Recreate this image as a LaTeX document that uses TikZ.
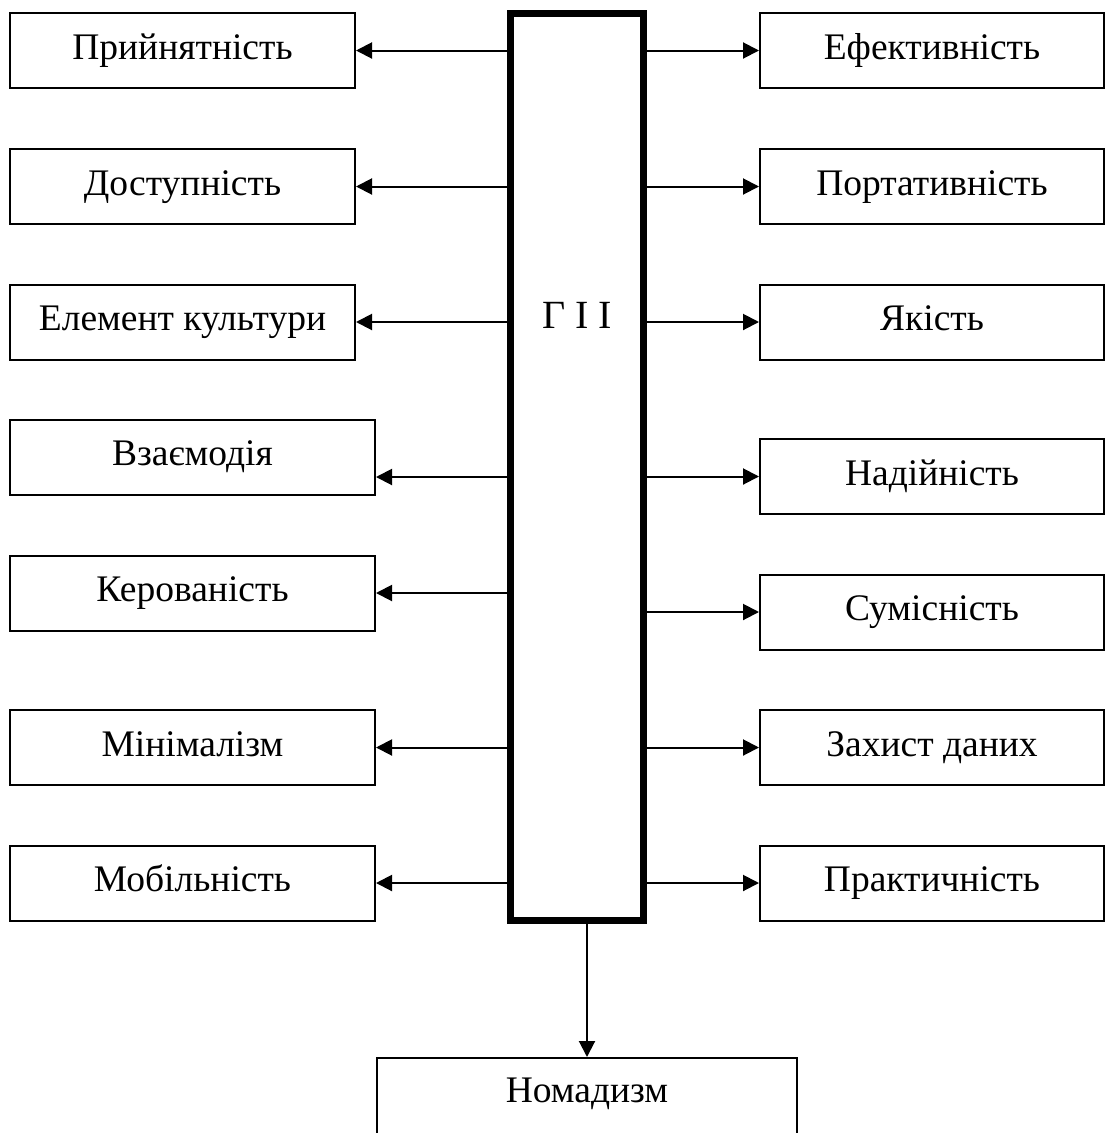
\documentclass[tikz,border=0pt]{standalone}
\usepackage{fontspec}
\setmainfont{Liberation Serif}
\usetikzlibrary{arrows.meta}
\begin{document}
\begin{tikzpicture}[x=1pt,y=-1pt,
  box/.style={draw=black,line width=2pt,rectangle,inner sep=0pt,
    minimum height=75pt,font=\fontsize{37.5}{42}\selectfont,
    text height=26pt,text depth=9pt},
  lbox/.style={box,minimum width=345pt},
  wbox/.style={box,minimum width=365pt},
  rbox/.style={box,minimum width=344pt},
  arr/.style={line width=2pt,-{Triangle[length=16pt,width=16pt]}},
  barbox/.style={draw=black,line width=7pt,rectangle,inner sep=0pt,
    minimum width=133pt,minimum height=907pt}]
\path[use as bounding box,clip] (0,0) rectangle (1106,1133);
\fill[white] (0,0) rectangle (1106,1133);

% central bar
\node[barbox] (bar) at (577,467) {};
\node[font=\fontsize{40}{44}\selectfont] (gii) at (577,315) {Г І І};

% left column
\node[lbox] (l1) at (182.5,50.5) {Прийнятність};
\node[lbox] (l2) at (182.5,186.5) {Доступність};
\node[lbox] (l3) at (182.5,322) {Елемент культури};
\node[wbox] (l4) at (192.5,457) {Взаємодія};
\node[wbox] (l5) at (192.5,593) {Керованість};
\node[wbox] (l6) at (192.5,747.5) {Мінімалізм};
\node[wbox] (l7) at (192.5,883) {Мобільність};

% right column
\node[rbox] (r1) at (932,50.5) {Ефективність};
\node[rbox] (r2) at (932,186.5) {Портативність};
\node[rbox] (r3) at (932,322) {Якість};
\node[rbox] (r4) at (932,476.5) {Надійність};
\node[rbox] (r5) at (932,612) {Сумісність};
\node[rbox] (r6) at (932,747.5) {Захист даних};
\node[rbox] (r7) at (932,883) {Практичність};

% bottom
\node[box,minimum width=420pt,minimum height=84pt,text depth=22pt] (nom) at (587,1100) {Номадизм};

% left connectors
\foreach \n in {l1,l2,l3,l5,l6,l7}{
  \draw[arr] (\n.east -| bar.west) -- (\n.east);
}
\coordinate (t4) at ([yshift=-20pt]l4.east);
\draw[arr] (t4 -| bar.west) -- (t4);

% right connectors
\foreach \n in {r1,r2,r3,r4,r5,r6,r7}{
  \draw[arr] (\n.west -| bar.east) -- (\n.west);
}

% bottom connector
\draw[arr] (nom.north |- bar.south) -- (nom.north);
\end{tikzpicture}
\end{document}
